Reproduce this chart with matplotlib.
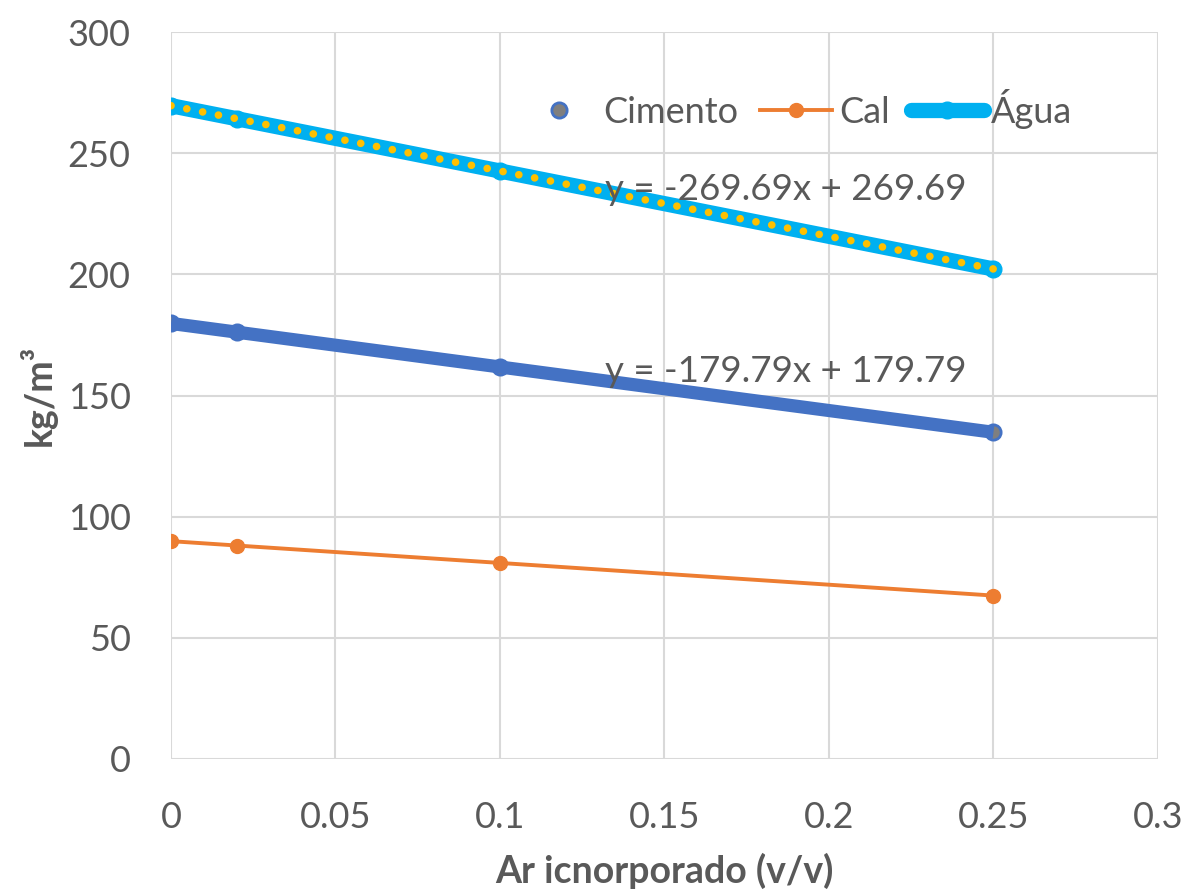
import numpy as np
import matplotlib.pyplot as plt

plt.rcParams['font.family'] = ['Lato', 'DejaVu Sans']

# dados
ar = [0, 0.02, 0.1, 0.25]
cimento = [179.79, 176.19, 161.81, 134.84]
cal = [89.9, 88.10, 80.91, 67.43]
agua = [269.69, 264.30, 242.72, 202.27]

xticks = [0, 0.05, 0.1, 0.15, 0.2, 0.25, 0.3]
xtick_labels = ["0", "0.05", "0.1", "0.15", "0.2", "0.25", "0.3"]
yticks = [0, 50, 100, 150, 200, 250, 300]

cinza = "#595959"

fig = plt.figure(figsize=(11.84, 8.96), dpi=100)
ax = fig.add_axes([0.1444, 0.153, 0.8336, 0.811])

# séries
ax.plot(ar, cimento, linestyle="none", marker="o", markersize=11,
        markerfacecolor="#7f7f7f", markeredgecolor="#4472c4", markeredgewidth=2,
        label="Cimento", zorder=3)
ax.plot(ar, cal, color="#ed7d31", linewidth=2.8, marker="o", markersize=10,
        label="Cal", zorder=3)
ax.plot(ar, agua, color="#00b0f0", linewidth=11, marker="o", markersize=12,
        solid_capstyle="round", label="Água", zorder=3)

# linhas de tendência
xs = np.array([ar[0], ar[-1]])
a1, b1 = np.polyfit(ar, cimento, 1)
ax.plot(xs, a1 * xs + b1, color="#4472c4", linewidth=9.5, solid_capstyle="butt", zorder=4)
a2, b2 = np.polyfit(ar, agua, 1)
ax.plot(xs, a2 * xs + b2, color="#ffc000", linewidth=5.5, linestyle=(0, (0.01, 2.1)),
        dash_capstyle="round", zorder=4)

ax.text(0.132, 235, f"y = {a2:.2f}x + {b2:.2f}", fontsize=26.5, color=cinza,
        va="center", ha="left", zorder=5)
ax.text(0.132, 160, f"y = {a1:.2f}x + {b1:.2f}", fontsize=26.5, color=cinza,
        va="center", ha="left", zorder=5)

ax.set_xlim(0, 0.3)
ax.set_ylim(0, 300)
ax.set_xticks(xticks)
ax.set_xticklabels(xtick_labels)
ax.set_yticks(yticks)
ax.tick_params(labelsize=26, colors=cinza, length=0)
ax.tick_params(axis="x", pad=30)
ax.tick_params(axis="y", pad=29)
ax.grid(True, color="#d9d9d9", linewidth=1.5)
ax.set_axisbelow(True)
for s in ax.spines.values():
    s.set_visible(False)

ax.set_xlabel("Ar icnorporado (v/v)", fontsize=27, fontweight="bold", color=cinza, labelpad=14)
ax.set_ylabel("kg/m³", fontsize=27, fontweight="bold", color=cinza, labelpad=8)

leg = ax.legend(loc="center", bbox_to_anchor=(0.635, 0.895), ncol=3, frameon=False,
                fontsize=26, handlelength=2.0, handletextpad=0.2, columnspacing=0.6)
for t in leg.get_texts():
    t.set_color(cinza)

fig.savefig("out.png", dpi=100)
